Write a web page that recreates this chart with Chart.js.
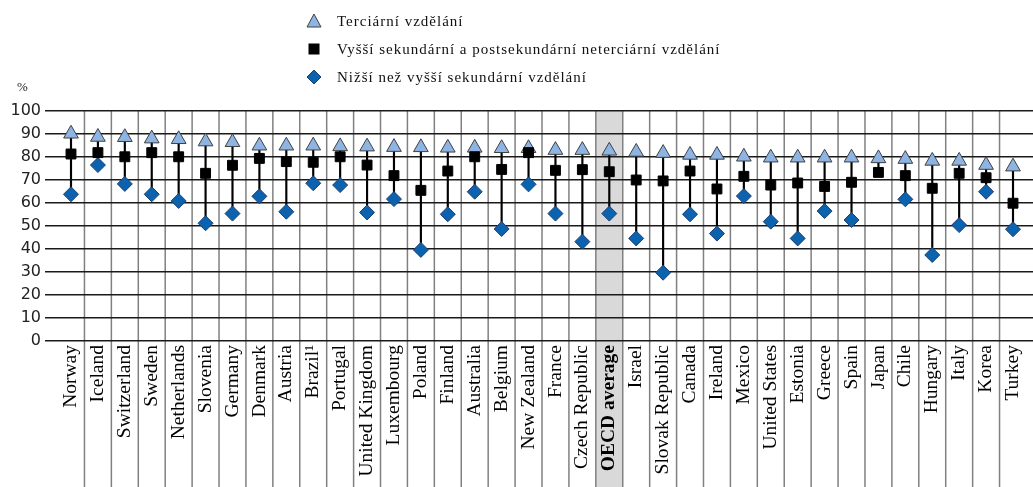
<!DOCTYPE html>
<html>
<head>
<meta charset="utf-8">
<script src="https://cdn.jsdelivr.net/npm/chart.js@4.4.1/dist/chart.umd.min.js"></script>
<style>
body { margin: 0; background: #fff; }
#wrap { position: relative; width: 1033px; height: 487px; }
#chart { position: absolute; left: 0; top: 0; }
.leg { position: absolute; left: 306px; height: 16px; line-height: 16px; white-space: nowrap;
       font-family: "Liberation Serif", serif; font-size: 15px; letter-spacing: 1px; color: #111; }
.leg svg { position: absolute; left: 0; top: 0; }
.leg span { position: absolute; left: 31px; top: 0; }
#pct { position: absolute; left: 17px; top: 79px; font-family: "Liberation Serif", serif; font-size: 13px; color: #222; }
</style>
</head>
<body>
<div id="wrap">
    <canvas id="chart" width="1033" height="487"></canvas>
    <div class="leg" style="top:13px">
        <svg width="16" height="16"><polygon points="8,1 15,14 1,14" fill="#8db4e2" stroke="#404040" stroke-width="1"/></svg>
        <span>Terciární vzdělání</span>
    </div>
    <div class="leg" style="top:41px">
        <svg width="16" height="16"><rect x="2.5" y="2.5" width="11" height="11" fill="#000"/></svg>
        <span>Vyšší sekundární a postsekundární neterciární vzdělání</span>
    </div>
    <div class="leg" style="top:69px">
        <svg width="16" height="16"><polygon points="8,1 15,8 8,15 1,8" fill="#0b62ae" stroke="#1f3f6f" stroke-width="1"/></svg>
        <span>Nižší než vyšší sekundární vzdělání</span>
    </div>
    <div id="pct">%</div>
</div>
<script>
let countries = ["Norway", "Iceland", "Switzerland", "Sweden", "Netherlands", "Slovenia", "Germany", "Denmark",
    "Austria", "Brazil¹", "Portugal", "United Kingdom", "Luxembourg", "Poland", "Finland", "Australia", "Belgium",
    "New Zealand", "France", "Czech Republic", "OECD average", "Israel", "Slovak Republic", "Canada", "Ireland",
    "Mexico", "United States", "Estonia", "Greece", "Spain", "Japan", "Chile", "Hungary", "Italy", "Korea", "Turkey"];

// Terciární vzdělání
let terciarni = [90.1, 88.7, 88.6, 88.0, 87.7, 86.7, 86.4, 84.9, 84.9, 84.9, 84.6, 84.5, 84.3, 84.2, 84.0, 84.0,
    83.8, 83.8, 83.0, 83.0, 82.7, 82.2, 81.7, 80.9, 80.9, 80.1, 79.7, 79.7, 79.7, 79.7, 79.4, 79.1, 78.3, 78.3,
    76.5, 75.8];

// Vyšší sekundární a postsekundární neterciární vzdělání
let vyssiSekundarni = [81.3, 81.9, 80.1, 81.9, 80.1, 72.9, 76.4, 79.4, 78.0, 77.7, 80.1, 76.5, 71.9, 65.5, 73.9,
    80.1, 74.6, 81.9, 74.2, 74.5, 73.6, 70.0, 69.6, 73.9, 66.1, 71.6, 67.8, 68.7, 67.2, 69.0, 73.3, 71.9, 66.4,
    72.9, 71.0, 59.9];

// Nižší než vyšší sekundární vzdělání
let nizsiSekundarni = [63.8, 76.5, 68.3, 63.8, 60.9, 51.2, 55.4, 62.9, 56.2, 68.6, 67.8, 55.9, 61.7, 39.6, 55.1,
    64.9, 48.7, 68.1, 55.4, 43.2, 55.4, 44.6, 29.7, 55.1, 46.7, 63.0, 51.9, 44.6, 56.5, 52.6, null, 61.6, 37.4,
    50.4, 64.9, 48.6];

let yTicks = [0, 10, 20, 30, 40, 50, 60, 70, 80, 90, 100];

let oecdIndex = countries.indexOf("OECD average");

// x osa: kategorie jako indexy, s okrajem vlevo a vpravo
let xMin = -0.966;
let xMax = 35.743;

function toPoints(values) {
    let points = [];
    for (let i = 0; i < values.length; i++) {
        points.push({ x: i, y: values[i] });
    }
    return points;
}

function rozsahy() {
    let points = [];
    for (let i = 0; i < countries.length; i++) {
        let vals = [terciarni[i], vyssiSekundarni[i], nizsiSekundarni[i]].filter(function(v) { return v !== null; });
        points.push({ x: i, y: [Math.min.apply(null, vals), Math.max.apply(null, vals)] });
    }
    return points;
}

// pozadi OECD sloupce a svisle cary tabulky
let tableLines = {
    id: "tableLines",
    beforeDraw: function(chart) {
        let ctx = chart.ctx;
        let xs = chart.scales.x;
        let area = chart.chartArea;
        let bottom = chart.height;

        ctx.save();
        let l = xs.getPixelForValue(oecdIndex - 0.5);
        let r = xs.getPixelForValue(oecdIndex + 0.5);
        ctx.fillStyle = "#d9d9d9";
        ctx.fillRect(l, area.top, r - l, bottom - area.top);

        ctx.strokeStyle = "#808080";
        ctx.lineWidth = 1.5;
        for (let i = 0; i < countries.length - 1; i++) {
            let px = xs.getPixelForValue(i + 0.5);
            ctx.beginPath();
            ctx.moveTo(px, area.top);
            ctx.lineTo(px, bottom);
            ctx.stroke();
        }
        ctx.restore();
    }
};

new Chart(document.getElementById("chart"), {
    type: "scatter",
    data: {
        datasets: [
            {
                label: "Vyšší sekundární a postsekundární neterciární vzdělání",
                data: toPoints(vyssiSekundarni),
                pointStyle: "rect",
                pointRadius: 7,
                backgroundColor: "#000",
                borderColor: "#000",
                borderWidth: 1,
                order: 1
            },
            {
                label: "Nižší než vyšší sekundární vzdělání",
                data: toPoints(nizsiSekundarni),
                pointStyle: "rectRot",
                pointRadius: 7.5,
                backgroundColor: "#0b62ae",
                borderColor: "#1f3f6f",
                borderWidth: 1,
                order: 2
            },
            {
                label: "Terciární vzdělání",
                data: toPoints(terciarni),
                pointStyle: "triangle",
                pointRadius: 8.5,
                backgroundColor: "#8db4e2",
                borderColor: "#404040",
                borderWidth: 1,
                order: 3
            },
            {
                type: "bar",
                label: "rozsah",
                data: rozsahy(),
                backgroundColor: "#000",
                barThickness: 1.5,
                order: 4
            }
        ]
    },
    options: {
        responsive: false,
        animation: false,
        layout: { autoPadding: false, padding: { top: 111, left: 0, right: 0, bottom: 0 } },
        plugins: {
            legend: { display: false },
            tooltip: { enabled: false }
        },
        scales: {
            x: {
                type: "linear",
                offset: false,
                min: xMin,
                max: xMax,
                grid: { display: false, drawTicks: false, offset: false },
                border: { display: false },
                afterBuildTicks: function(scale) {
                    scale.ticks = countries.map(function(c, i) { return { value: i }; });
                    scale.min = xMin;
                    scale.max = xMax;
                },
                afterFit: function(scale) {
                    scale.height = 146;
                    scale.paddingLeft = 0;
                    scale.paddingRight = 0;
                },
                ticks: {
                    autoSkip: false,
                    minRotation: 90,
                    maxRotation: 90,
                    padding: 4,
                    color: "#000",
                    font: function(c) {
                        let bold = c.tick && c.tick.value === oecdIndex;
                        return { family: "'Liberation Serif', serif", size: 19.5, weight: bold ? "bold" : "normal" };
                    },
                    callback: function(value) {
                        return countries[value];
                    }
                }
            },
            y: {
                min: 0,
                max: 100,
                afterBuildTicks: function(scale) {
                    scale.ticks = yTicks.map(function(v) { return { value: v }; });
                },
                afterFit: function(scale) {
                    scale.width = 45;
                },
                grid: { color: "#1a1a1a", lineWidth: 1.5, drawTicks: false },
                border: { display: false },
                ticks: {
                    padding: 4,
                    color: "#222",
                    font: { family: "'DejaVu Sans', sans-serif", size: 16 }
                }
            }
        }
    },
    plugins: [tableLines]
});
</script>
</body>
</html>
